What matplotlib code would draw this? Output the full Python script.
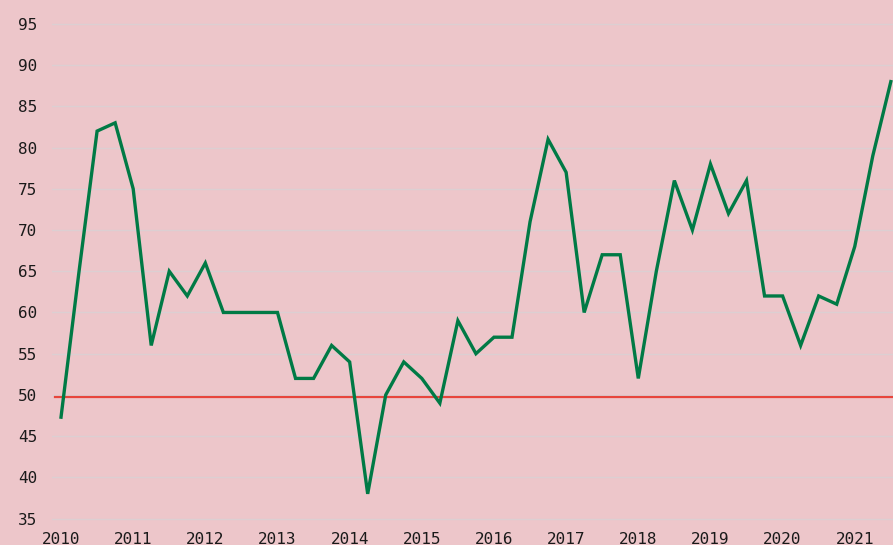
import numpy as np
from matplotlib import pyplot as plt

# quarterly values, 2010 Q1 .. 2021 Q3
start_year = 2010
values = [47.3, 65, 82, 83, 75, 56, 65, 62, 66, 60, 60, 60,
          60, 52, 52, 56, 54, 38, 50, 54, 52, 49, 59, 55,
          57, 57, 71, 81, 77, 60, 67, 67, 52, 65, 76, 70,
          78, 72, 76, 62, 62, 56, 62, 61, 68, 79, 88]
threshold = 49.75
years = list(range(2010, 2022))
y_ticks = list(range(35, 100, 5))

fondo = "#edc6ca"
verde = "#007a45"
rojo = "#e8453c"

x = start_year + np.arange(len(values)) / 4

fig = plt.figure(figsize=(8.93, 5.45), dpi=100, facecolor=fondo)
ax = fig.add_axes([52 / 893, 19 / 545, 1 - 52 / 893, 1 - 19 / 545])
ax.set_facecolor(fondo)

ax.axhline(threshold, xmin=0.004, color=rojo, linewidth=1.6, zorder=2)
ax.plot(x, values, color=verde, linewidth=2.4, zorder=3, solid_joinstyle="miter")

ax.set_xlim(2009.875, 2021.53)
ax.set_ylim(34.1, 97.9)
ax.set_xticks(years)
ax.set_yticks(y_ticks)
ax.grid(axis="y", color="#dccfd2", linewidth=1)
ax.set_axisbelow(True)
for s in ax.spines.values():
    s.set_visible(False)
ax.tick_params(length=0, labelsize=11.5, colors="#1a1a1a")
ax.tick_params(axis="y", pad=10.8)
ax.tick_params(axis="x", pad=4)
for lbl in ax.get_xticklabels() + ax.get_yticklabels():
    lbl.set_family("DejaVu Sans Mono")

fig.savefig("out.png", dpi=100, facecolor=fondo)
